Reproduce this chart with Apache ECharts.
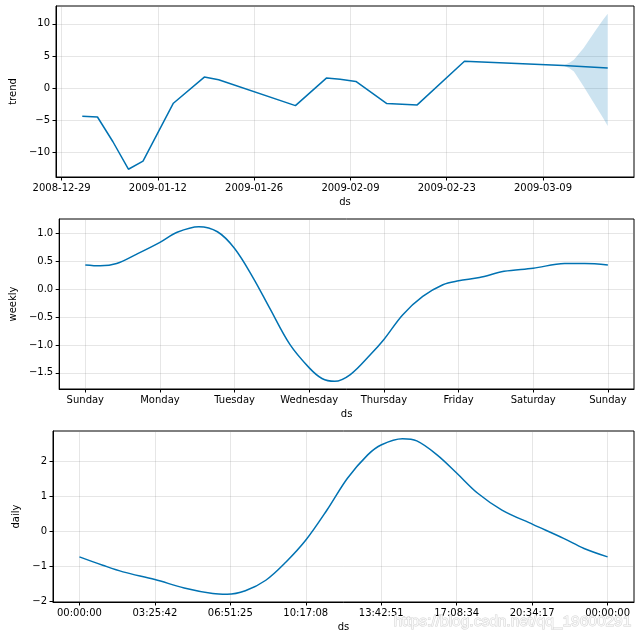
<!DOCTYPE html>
<html>
<head>
<meta charset="utf-8">
<script src="https://cdn.jsdelivr.net/npm/echarts@6/dist/echarts.min.js"></script>
<style>
html,body{margin:0;padding:0;background:#fff;}
#chart{width:640px;height:640px;}
</style>
</head>
<body>
<div id="chart"></div>
<script>
// ---------- data ----------
const trendDates = ['2009-01-01 00:00','2009-01-03 05:00','2009-01-05 11:00','2009-01-07 17:00','2009-01-09 20:00','2009-01-14 06:00','2009-01-18 18:00','2009-01-20 20:00','2009-02-01 00:00','2009-02-05 12:00','2009-02-07 12:00','2009-02-09 19:00','2009-02-14 07:00','2009-02-18 17:00','2009-02-25 14:00','2009-03-12 00:00','2009-03-18 10:00'];
const trendValues = [-4.37,-4.48,-8.33,-12.6,-11.35,-2.34,1.72,1.30,-2.71,1.56,1.40,1.04,-2.40,-2.60,4.17,3.54,3.12];
const bandDates = ['2009-03-12 00:00','2009-03-12 20:00','2009-03-13 12:00','2009-03-14 22:00','2009-03-16 10:00','2009-03-17 19:00','2009-03-18 10:00'];
const bandUpper = [3.54,3.95,4.43,6.25,8.6,10.7,11.56];
const bandLower = [3.54,3.1,2.6,0.26,-2.34,-4.7,-5.9];
const trendXTickLabels = ['2008-12-29','2009-01-12','2009-01-26','2009-02-09','2009-02-23','2009-03-09'];
const trendYTicks = [-10,-5,0,5,10];

const weekdayLabels = ['Sunday','Monday','Tuesday','Wednesday','Thursday','Friday','Saturday','Sunday'];
const weeklyDays = [0,0.2,0.42,0.69,1.0,1.23,1.52,1.77,2.0,2.25,2.47,2.74,3.0,3.17,3.34,3.55,3.82,4.0,4.25,4.52,4.79,5.0,5.28,5.61,6.0,6.42,6.69,7.0];
const weeklyValues = [0.435,0.42,0.46,0.63,0.84,1.02,1.12,1.03,0.73,0.2,-0.34,-0.99,-1.41,-1.6,-1.65,-1.53,-1.17,-0.9,-0.46,-0.13,0.08,0.15,0.21,0.32,0.375,0.46,0.46,0.435];
const weeklyYTicks = [-1.5,-1.0,-0.5,0.0,0.5,1.0];

const dailyTickLabels = ['00:00:00','03:25:42','06:51:25','10:17:08','13:42:51','17:08:34','20:34:17','00:00:00'];
const dailyHours = [0,1.06,1.98,3.43,4.76,6.06,6.71,7.54,8.47,9.40,10.29,11.25,12.18,13.1,13.73,14.68,15.33,16.25,17.14,18.1,19.2,20.6,22.0,22.93,24];
const dailyValues = [-0.73,-0.97,-1.16,-1.38,-1.62,-1.78,-1.80,-1.70,-1.40,-0.87,-0.25,0.61,1.52,2.19,2.48,2.65,2.59,2.19,1.67,1.09,0.61,0.20,-0.20,-0.49,-0.73];
const dailyYTicks = [-2,-1,0,1,2];

// ---------- helpers ----------
const ts = s => echarts.number.parseDate(s).getTime();
const minus = s => String(s).replace('-', '\u2212');
function pad(lo, hi) { const r = hi - lo; return [lo - 0.05 * r, hi + 0.05 * r]; }

const FONT = 'DejaVu Sans';
const LINE = '#0072B2';
const GRIDC = 'rgba(128,128,128,0.2)';

const trendT = trendDates.map(ts);
const bandT = bandDates.map(ts);
const trendXTicks = trendXTickLabels.map(ts);
const allT = trendT.concat(bandT);
const [txMin, txMax] = pad(Math.min(...allT), Math.max(...allT));
const allY = trendValues.concat(bandUpper, bandLower);
const [tyMin, tyMax] = pad(Math.min(...allY), Math.max(...allY));
const [wxMin, wxMax] = pad(0, 7);
const [wyMin, wyMax] = pad(Math.min(...weeklyValues), Math.max(...weeklyValues));
const [dxMin, dxMax] = pad(0, 24);
const [dyMin, dyMax] = pad(Math.min(...dailyValues), Math.max(...dailyValues));
const dailyXTicks = dailyTickLabels.map((_, k) => k * 24 / 7);

function axisBase(gridIndex, name, gap) {
  return {
    gridIndex, type: 'value',
    name, nameLocation: 'middle', nameGap: gap,
    nameTextStyle: { fontFamily: FONT, fontSize: 10, color: '#000' },
    axisLine: { show: true, onZero: false, lineStyle: { color: '#000', width: 1 } },
    axisTick: { show: true, length: 3.5, lineStyle: { color: '#000' } },
    axisLabel: { fontFamily: FONT, fontSize: 10, color: '#000', margin: 6 },
    splitLine: { show: true, lineStyle: { color: GRIDC, width: 1 } }
  };
}
function setTicks(ax, min, max, ticks, fmt) {
  ax.min = min; ax.max = max;
  ax.axisTick.customValues = ticks;
  ax.axisLabel.customValues = ticks;
  ax.axisLabel.formatter = fmt;
  return ax;
}

const x0 = setTicks(axisBase(0, 'ds', 20), txMin, txMax, trendXTicks, v => {
  let best = 0;
  trendXTicks.forEach((t, i) => { if (Math.abs(t - v) < Math.abs(trendXTicks[best] - v)) best = i; });
  return trendXTickLabels[best];
});
const x1 = setTicks(axisBase(1, 'ds', 20), wxMin, wxMax, weekdayLabels.map((_, i) => i), v => weekdayLabels[Math.round(v)]);
const x2 = setTicks(axisBase(2, 'ds', 20), dxMin, dxMax, dailyXTicks, v => dailyTickLabels[Math.round(v * 7 / 24)]);

const y0 = setTicks(axisBase(0, 'trend', 30), tyMin, tyMax, trendYTicks, v => minus(Math.round(v)));
const y1 = setTicks(axisBase(1, 'weekly', 34), wyMin, wyMax, weeklyYTicks, v => minus(Number(v).toFixed(1)));
const y2 = setTicks(axisBase(2, 'daily', 20), dyMin, dyMax, dailyYTicks, v => minus(Math.round(v)));

const gridStyle = { show: true, borderColor: '#000', borderWidth: 1, backgroundColor: 'transparent', containLabel: false };

const option = {
  animation: false,
  backgroundColor: '#fff',
  grid: [
    Object.assign({ left: 53, top: 6, width: 581, height: 171 }, gridStyle),
    Object.assign({ left: 53, top: 219, width: 581, height: 170 }, gridStyle),
    Object.assign({ left: 53, top: 431, width: 581, height: 171 }, gridStyle)
  ],
  xAxis: [x0, x1, x2],
  yAxis: [y0, y1, y2],
  series: [
    {
      // uncertainty band: polygon upper edge forward, lower edge back
      type: 'custom', xAxisIndex: 0, yAxisIndex: 0, silent: true, z: 1,
      data: [[bandT[0], bandUpper[0]]],
      renderItem: function (params, api) {
        const pts = [];
        for (let i = 0; i < bandT.length; i++) pts.push(api.coord([bandT[i], bandUpper[i]]));
        for (let i = bandT.length - 1; i >= 0; i--) pts.push(api.coord([bandT[i], bandLower[i]]));
        return { type: 'polygon', shape: { points: pts }, style: { fill: LINE, opacity: 0.2 } };
      }
    },
    {
      type: 'line', xAxisIndex: 0, yAxisIndex: 0, z: 3,
      data: trendT.map((t, i) => [t, trendValues[i]]),
      showSymbol: false, lineStyle: { color: LINE, width: 1.5 }
    },
    {
      type: 'line', xAxisIndex: 1, yAxisIndex: 1,
      data: weeklyDays.map((d, i) => [d, weeklyValues[i]]),
      showSymbol: false, smooth: 0.35, lineStyle: { color: LINE, width: 1.5 }
    },
    {
      type: 'line', xAxisIndex: 2, yAxisIndex: 2,
      data: dailyHours.map((h, i) => [h, dailyValues[i]]),
      showSymbol: false, smooth: 0.35, lineStyle: { color: LINE, width: 1.5 }
    }
  ],
  graphic: [{
    type: 'text', left: 393, top: 613, z: 100, silent: true,
    style: {
      text: 'https://blog.csdn.net/qq_19600291',
      font: '15.5px "Liberation Sans"',
      fill: 'rgba(255,255,255,0.8)',
      stroke: 'rgba(175,175,175,0.55)', lineWidth: 1
    }
  }]
};

const chart = echarts.init(document.getElementById('chart'), null, { renderer: 'canvas' });
chart.setOption(option);
</script>
</body>
</html>
